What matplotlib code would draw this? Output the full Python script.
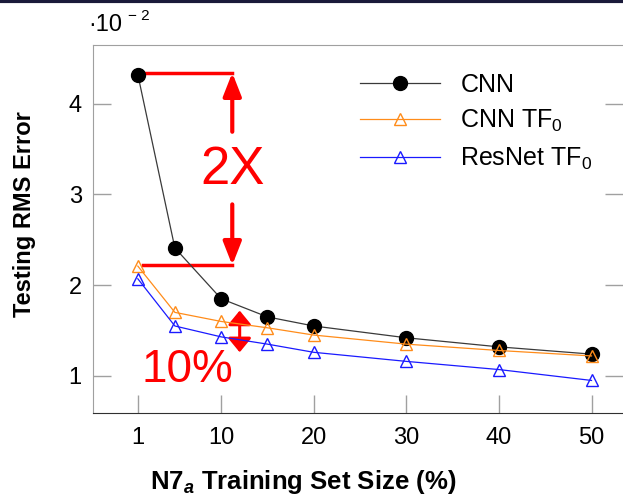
import numpy as np
import matplotlib
matplotlib.use("Agg")
from matplotlib import pyplot as plt
from matplotlib.lines import Line2D

plt.rcParams['font.family'] = ['Liberation Sans', 'DejaVu Sans']
plt.rcParams['mathtext.fontset'] = 'custom'
plt.rcParams['mathtext.rm'] = 'Liberation Sans'
plt.rcParams['mathtext.it'] = 'Liberation Sans:italic:bold'
plt.rcParams['mathtext.bf'] = 'Liberation Sans:bold'

# training set size (%)
sizes = [1, 5, 10, 15, 20, 30, 40, 50]
# testing RMS error (x 1e-2)
cnn = [4.32, 2.41, 1.85, 1.65, 1.55, 1.42, 1.32, 1.24]
cnn_tf0 = [2.21, 1.70, 1.60, 1.53, 1.45, 1.35, 1.28, 1.22]
resnet_tf0 = [2.07, 1.55, 1.43, 1.35, 1.26, 1.16, 1.07, 0.95]

xticks = [1, 10, 20, 30, 40, 50]
yticks = [1, 2, 3, 4]

fig = plt.figure(figsize=(6.23, 4.98), dpi=100)
ax = fig.add_axes([0.149, 0.171, 0.851, 0.739])

ax.plot(sizes, cnn, '-', color='#3a3a3a', lw=0.9, marker='o', ms=10,
        mfc='black', mec='black', label='CNN', zorder=3)
ax.plot(sizes, cnn_tf0, '-', color='#ff8c1a', lw=0.9, marker='^', ms=9,
        mfc='none', mec='#ff8c1a', mew=1.0, label='CNN TF$_0$', zorder=4)
ax.plot(sizes, resnet_tf0, '-', color='#1a1aff', lw=0.9, marker='^', ms=9,
        mfc='none', mec='#1a1aff', mew=1.0, label='ResNet TF$_0$', zorder=4)

ax.set_xlim(-3.86, 53.4)
ax.set_ylim(0.593, 4.648)
ax.set_xticks(xticks)
ax.set_yticks(yticks)
ax.tick_params(direction='in', length=13, width=1, color='#a0a0a0',
               labelsize=17, right=True, pad=8)
ax.tick_params(axis='x', pad=10)
for s in ['left', 'top']:
    ax.spines[s].set_color('#a0a0a0')
ax.spines['right'].set_visible(False)
ax.spines['bottom'].set_color('#303030')

ax.set_ylabel('Testing RMS Error', fontsize=17, fontweight='bold')
ax.yaxis.set_label_coords(-0.108, 0.54)
ax.set_xlabel('N7$_{a}$ Training Set Size (%)', fontsize=18.5,
              fontweight='bold')
ax.xaxis.set_label_coords(0.396, -0.15)

# 2X annotation
red = '#ff0000'
ax.plot([1.2, 11.2], [4.34, 4.34], color=red, lw=2.5, zorder=2)
ax.plot([1.6, 11.2], [2.22, 2.22], color=red, lw=2.5, zorder=2)
ax.annotate('', xy=(11.2, 4.34), xytext=(11.2, 3.69),
            arrowprops=dict(arrowstyle='-|>,head_length=1.4,head_width=0.55',
                            color=red, lw=3, shrinkA=0, shrinkB=0))
ax.annotate('', xy=(11.2, 2.22), xytext=(11.2, 2.89),
            arrowprops=dict(arrowstyle='-|>,head_length=1.4,head_width=0.55',
                            color=red, lw=3, shrinkA=0, shrinkB=0))
ax.text(11.2, 3.27, '2X', color=red, fontsize=38, ha='center', va='center')

# 10% annotation
ax.annotate('', xy=(12.0, 1.72), xytext=(12.0, 1.26),
            arrowprops=dict(arrowstyle='<|-|>,head_length=0.85,head_width=0.7',
                            color=red, lw=2.2, shrinkA=0, shrinkB=0))
ax.text(6.4, 1.07, '10%', color=red, fontsize=33, ha='center', va='center')

leg = ax.legend(loc='upper right', bbox_to_anchor=(0.985, 0.985), frameon=False,
                fontsize=18, handlelength=3.2, labelspacing=0.45,
                handletextpad=0.8)

fig.text(0.141, 0.95, '·10', fontsize=17, ha='left', va='center')
fig.text(0.205, 0.968, '− 2', fontsize=11, ha='left', va='center')
fig.add_artist(Line2D([0, 1], [0.997, 0.997], color='#1a1a3a', lw=3,
                      transform=fig.transFigure))

fig.savefig('out.png', dpi=100)
